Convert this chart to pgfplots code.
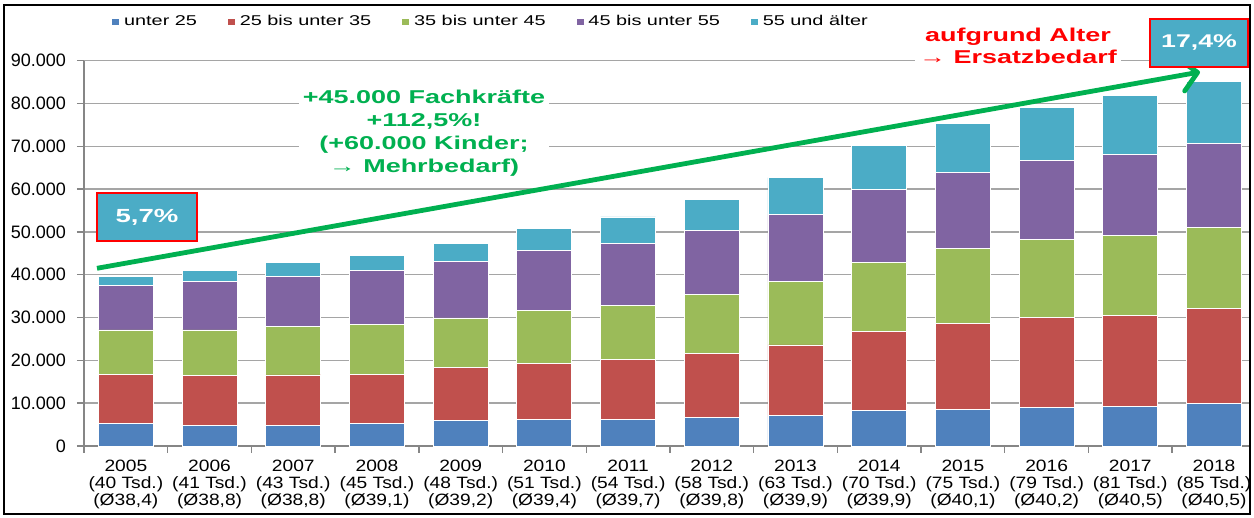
\documentclass[border=0pt]{standalone}
\usepackage{pgfplots}
\pgfplotsset{compat=1.18}
\usepackage{pgfplotstable}
\usepackage{fontspec}
\setmainfont{Liberation Sans}
\newfontfamily\annot{Liberation Sans}[FakeStretch=1.45]
\newfontfamily\legfont{Liberation Sans}[FakeStretch=1.4]
\newfontfamily\xlfont{Liberation Sans}[FakeStretch=1.17]
\usetikzlibrary{arrows.meta}

\definecolor{cblue}{RGB}{79,129,189}
\definecolor{cred}{RGB}{192,80,77}
\definecolor{cgreen}{RGB}{155,187,89}
\definecolor{cpurple}{RGB}{128,100,162}
\definecolor{ccyan}{RGB}{75,172,198}
\definecolor{agreen}{RGB}{0,176,80}
\definecolor{gridgray}{RGB}{165,165,165}
\definecolor{axisgray}{RGB}{134,134,134}

\pgfplotstableread{
x a b c d e
0 5300 11400 10400 10400 2200
1 4900 11500 10700 11400 2500
2 4900 11700 11300 11800 3100
3 5300 11500 11500 12800 3500
4 5900 12400 11600 13200 4300
5 6200 13100 12300 14000 5300
6 6300 14000 12600 14400 6200
7 6600 15100 13600 15000 7300
8 7100 16500 14800 15700 8600
9 8200 18500 16200 17100 10300
10 8600 20100 17500 17700 11500
11 9100 20900 18300 18400 12400
12 9300 21100 18700 19000 13700
13 9900 22200 18900 19700 14400
}\data

\begin{document}
\begin{tikzpicture}
\useasboundingbox (0,0) rectangle (627pt,259pt);
\begin{axis}[
  at={(42pt,36pt)}, anchor=south west,
  scale only axis, width=583pt, height=192.65pt,
  xmin=-0.5, xmax=13.43, ymin=0, ymax=90000,
  ybar stacked, bar width=27.5pt,
  axis x line*=bottom, axis y line*=left,
  axis line style={axisgray, line width=0.7pt, -},
  ymajorgrids, grid style={gridgray, line width=0.7pt},
  ytick={0,10000,...,90000},
  scaled y ticks=false,
  /pgf/number format/1000 sep={.},
  /pgf/number format/assume math mode=true,
  yticklabel style={font=\fontsize{9}{10}\selectfont, xshift=-2pt},
  xtick={0,...,13},
  major x tick style={draw=none},
  minor xtick={-0.5,0.5,...,12.5},
  tick align=outside,
  major tick length=3.5pt, minor tick length=3.5pt,
  tick style={axisgray, line width=0.7pt},
  xticklabel style={font=\xlfont\fontsize{8.2}{8.5}\selectfont, align=center},
  xticklabels={
    {2005\\(40 Tsd.)\\(Ø38,4)},
    {2006\\(41 Tsd.)\\(Ø38,8)},
    {2007\\(43 Tsd.)\\(Ø38,8)},
    {2008\\(45 Tsd.)\\(Ø39,1)},
    {2009\\(48 Tsd.)\\(Ø39,2)},
    {2010\\(51 Tsd.)\\(Ø39,4)},
    {2011\\(54 Tsd.)\\(Ø39,7)},
    {2012\\(58 Tsd.)\\(Ø39,8)},
    {2013\\(63 Tsd.)\\(Ø39,9)},
    {2014\\(70 Tsd.)\\(Ø39,9)},
    {2015\\(75 Tsd.)\\(Ø40,1)},
    {2016\\(79 Tsd.)\\(Ø40,2)},
    {2017\\(81 Tsd.)\\(Ø40,5)},
    {2018\\(85 Tsd.)\\(Ø40,5)}},
  clip=false,
  legend columns=5,
  legend style={at={(0.3495,1.1005)}, anchor=center, draw=none, fill=none,
    font=\legfont\fontsize{7.1}{8}\selectfont,
    /tikz/every even column/.append style={column sep=13pt},
    /tikz/every odd column/.append style={column sep=0pt}},
  legend image code/.code={\fill[#1] (0pt,-1.75pt) rectangle (4pt,1.75pt);},
]
\addplot[fill=cblue, draw=white, line width=0.4pt] table[x=x,y=a]{\data};
\addplot[fill=cred, draw=white, line width=0.4pt] table[x=x,y=b]{\data};
\addplot[fill=cgreen, draw=white, line width=0.4pt] table[x=x,y=c]{\data};
\addplot[fill=cpurple, draw=white, line width=0.4pt] table[x=x,y=d]{\data};
\addplot[fill=ccyan, draw=white, line width=0.4pt] table[x=x,y=e]{\data};
\legend{unter 25, 25 bis unter 35, 35 bis unter 45, 45 bis unter 55, 55 und älter}
\end{axis}

% green arrow
\draw[agreen, line width=2.4pt, -{Straight Barb[length=8pt,width=16pt,round]}] (48.5pt,124.85pt) -- (600pt,223pt);

% green text
\node[fill=white, inner sep=2pt, align=center, text=agreen,
  font=\annot\bfseries\fontsize{9.3}{11.5}\selectfont] at (212pt,192.5pt)
  {+45.000 Fachkräfte\\+112,5\%!\\(+60.000 Kinder;\\→ Mehrbedarf)};

% red text
\node[fill=white, inner sep=2pt, align=center, text=red,
  font=\annot\bfseries\fontsize{9.3}{11}\selectfont] at (509pt,236pt)
  {aufgrund Alter\\→ Ersatzbedarf};

% boxes
\draw[fill=ccyan, draw=red, line width=1.3pt] (48.5pt,138.5pt) rectangle (98.5pt,162.5pt);
\node[text=white, font=\annot\bfseries\fontsize{9.5}{11}\selectfont] at (73.5pt,150.5pt) {5,7\%};
\draw[fill=ccyan, draw=red, line width=1.3pt] (575pt,225.5pt) rectangle (624pt,249.5pt);
\node[text=white, font=\annot\bfseries\fontsize{9.2}{11}\selectfont] at (599.5pt,237.5pt) {17,4\%};

% frame
\draw[black, line width=1pt] (2pt,2pt) rectangle (625pt,256.5pt);
\end{tikzpicture}
\end{document}
